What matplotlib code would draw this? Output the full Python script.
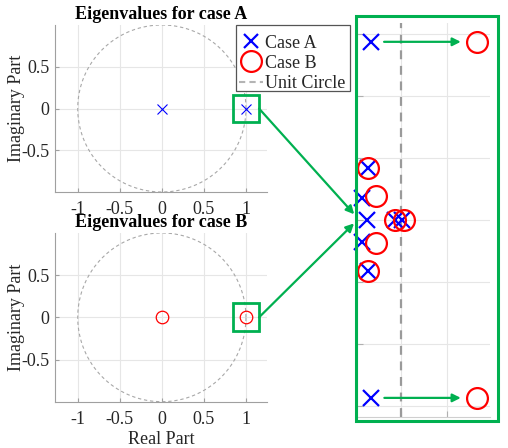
import numpy as np
import matplotlib
matplotlib.use("Agg")
import matplotlib.pyplot as plt
from matplotlib.lines import Line2D
from matplotlib.patches import Rectangle, ConnectionPatch

plt.rcParams['font.family'] = ['Liberation Serif', 'DejaVu Serif']
plt.rcParams['axes.unicode_minus'] = False

# ---- data ----
caseA_main_re = [0.0, 1.0]
caseA_main_im = [0.0, 0.0]
caseB_main_re = [0.0, 1.0]
caseB_main_im = [0.0, 0.0]

# zoomed view near z = 1
caseA_zoom_re = [0.99327, 0.99273, 0.99127, 0.99238, 0.99867, 1.00022, 0.99127, 0.99273, 0.99333]
caseA_zoom_im = [0.02876, 0.00834, 0.00360, 0.0, 0.0, 0.0, -0.00360, -0.00834, -0.02876]
caseB_zoom_re = [1.01667, 0.99273, 0.99451, 0.99851, 1.00067, 0.99451, 0.99273, 1.01667]
caseB_zoom_im = [0.02876, 0.00834, 0.00379, 0.0, 0.0, -0.00379, -0.00834, -0.02876]

xticks_main = [-1, -0.5, 0, 0.5, 1]
xticklabels_main = ['-1', '-0.5', '0', '0.5', '1']
yticks_main = [-0.5, 0, 0.5]
yticklabels_main = ['-0.5', '0', '0.5']
titles = ['Eigenvalues for case A', 'Eigenvalues for case B']
legend_labels = ['Case A', 'Case B', 'Unit Circle']

GREEN = '#00B050'
GRID = '#e6e6e6'
SPINE = '#a0a0a0'
TXT = '#262626'
FS = 13

W, H = 508, 448
fig = plt.figure(figsize=(W / 100, H / 100), dpi=100)


def rect(l, t, r, b):
    return [l / W, 1 - b / H, (r - l) / W, (b - t) / H]


axA = fig.add_axes(rect(55, 25, 267, 192))
axB = fig.add_axes(rect(55, 233, 267, 401.7))
axI = fig.add_axes(rect(357, 23, 490, 416.7))

theta = np.linspace(0, 2 * np.pi, 400)


def style_main(ax, title):
    ax.plot(np.cos(theta), np.sin(theta), color='#a8a8a8', lw=0.8,
            linestyle=(0, (3, 2.5)), zorder=1)
    ax.set_xlim(-1.27, 1.25)
    ax.set_ylim(-1.0, 1.0)
    ax.set_xticks(xticks_main)
    ax.set_xticklabels(xticklabels_main)
    ax.set_yticks(yticks_main)
    ax.set_yticklabels(yticklabels_main)
    ax.grid(True, color=GRID, lw=0.8)
    ax.set_axisbelow(True)
    for s in ['top', 'right']:
        ax.spines[s].set_visible(False)
    for s in ['left', 'bottom']:
        ax.spines[s].set_color(SPINE)
        ax.spines[s].set_linewidth(0.8)
    ax.tick_params(direction='in', length=3, color=SPINE, labelsize=FS,
                   labelcolor=TXT)
    ax.tick_params(axis='x', pad=6.5)
    ax.tick_params(axis='y', pad=4)
    ax.set_title(title, fontsize=FS, fontweight='bold', pad=4)
    ax.set_ylabel('Imaginary Part', fontsize=FS, color=TXT)
    ax.yaxis.set_label_coords(-0.141, 0.5)


style_main(axA, titles[0])
style_main(axB, titles[1])

axA.plot(caseA_main_re, caseA_main_im, linestyle='none', marker='x', ms=7,
         mew=0.8, color='blue', zorder=3)
axB.plot(caseB_main_re, caseB_main_im, linestyle='none', marker='o', ms=9,
         mew=0.9, mfc='none', color='red', zorder=3)
axB.set_xlabel('Real Part', fontsize=FS, color=TXT, labelpad=2)

# green boxes around z = 1
bw, bh = 0.31, 0.33
for ax, re, im in [(axA, caseA_main_re[1], caseA_main_im[1]),
                   (axB, caseB_main_re[1], caseB_main_im[1])]:
    ax.add_patch(Rectangle((re - bw / 2, im - bh / 2), bw, bh, fill=False,
                           ec=GREEN, lw=2.0, clip_on=False, zorder=5))

# ---- zoomed inset ----
# near z = 1 the unit circle is (to pixel accuracy) the line Re = 1
axI.axvline(1.0, color='#9a9a9a', lw=1.6, linestyle=(0, (4, 3)), zorder=1)
axI.set_xlim(0.9902, 1.0196)
axI.set_ylim(-0.0318, 0.0318)
axI.set_xticks([1.0, 1.01])
axI.set_yticks([-0.03, -0.02, -0.01, 0, 0.01, 0.02, 0.03])
axI.set_xticklabels([])
axI.set_yticklabels([])
axI.grid(True, color=GRID, lw=0.8)
axI.set_axisbelow(True)
for s in ['top', 'right']:
    axI.spines[s].set_visible(False)
for s in ['left', 'bottom']:
    axI.spines[s].set_color('#cfcfcf')
    axI.spines[s].set_linewidth(0.8)
axI.tick_params(direction='in', length=4, color='#b0b0b0')

axI.plot(caseA_zoom_re, caseA_zoom_im, linestyle='none', marker='x', ms=11,
         mew=1.6, color='blue', zorder=3, clip_on=False)
axI.plot(caseB_zoom_re, caseB_zoom_im, linestyle='none', marker='o', ms=15,
         mew=1.6, mfc='none', color='red', zorder=4, clip_on=False)

# arrows from case A to case B for the outlying pair
for i, j in [(0, 0), (8, 7)]:
    axI.annotate('', xy=(caseB_zoom_re[j], caseB_zoom_im[j]),
                 xytext=(caseA_zoom_re[i], caseA_zoom_im[i]),
                 arrowprops=dict(arrowstyle='-|>', color=GREEN, lw=1.6,
                                 mutation_scale=12, shrinkA=9.5, shrinkB=11.5),
                 zorder=5)

# green frame around the zoom
fig.add_artist(Rectangle((356 / W, 1 - 421 / H), (498 - 356) / W, (421 - 16) / H,
                         transform=fig.transFigure, fill=False, ec=GREEN, lw=2.2,
                         zorder=10))

# connecting arrows
for ax, re, im, yoff in [(axA, caseA_main_re[1], caseA_main_im[1], 0.0004),
                         (axB, caseB_main_re[1], caseB_main_im[1], -0.0001)]:
    con = ConnectionPatch(xyA=(re + bw / 2, im), coordsA=ax.transData,
                          xyB=(axI.get_xlim()[0], yoff), coordsB=axI.transData,
                          arrowstyle='-|>', color=GREEN, lw=1.6,
                          mutation_scale=12, shrinkA=0, shrinkB=3, zorder=9)
    fig.add_artist(con)

# legend (frame drawn separately)
fig.add_artist(Rectangle((236 / W, 1 - 91 / H), (350 - 236) / W, (91 - 25) / H,
                         transform=fig.transFigure, fc='white', ec='#555555',
                         lw=0.9, zorder=19))
handles = [
    Line2D([], [], linestyle='none', marker='x', ms=9.5, mew=1.6, color='blue'),
    Line2D([], [], linestyle='none', marker='o', ms=15, mew=1.6, mfc='none', color='red'),
    Line2D([], [], color='#b4b4b4', lw=1.5, linestyle=(0, (3, 2))),
]
leg = fig.legend(handles, legend_labels, loc='upper left',
                 bbox_to_anchor=(238.7 / W, 1 - 34.5 / H), bbox_transform=fig.transFigure,
                 borderaxespad=0, fontsize=FS, frameon=False, handlelength=1.33,
                 handletextpad=0.144, borderpad=0, labelspacing=0.18)
leg.set_zorder(20)
for t in leg.get_texts():
    t.set_color(TXT)

fig.savefig('out.png', dpi=100)
